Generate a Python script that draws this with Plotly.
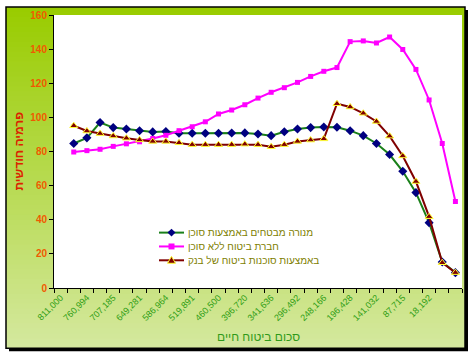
import plotly.graph_objects as go

# ---- data ----
x_labels = ["811,000", "760,994", "707,185", "649,281", "586,964", "519,891", "460,500",
            "396,720", "341,636", "296,492", "248,166", "196,428", "141,032", "87,715", "18,192"]
label_positions = list(range(0, 30, 2))
x_idx = list(range(1, 31))

menora = [84.7, 88, 97, 94, 93.2, 92.2, 91.5, 91.7, 90.7, 90.7, 90.7, 90.7, 90.8, 90.9, 90.3,
          89.3, 91.6, 93.2, 94, 94.4, 94.2, 92.2, 89.3, 84.7, 78.2, 68.4, 55.9, 38.3, 15.2, 9]
direct = [79.7, 80.5, 81.3, 83, 84.5, 85.7, 87.6, 89.5, 92.2, 94.5, 97.4, 102, 104.3, 107.4, 111.3,
          114.7, 117.4, 120.5, 124, 127, 129.2, 144.4, 144.8, 143.6, 147.1, 139.8, 128.1, 110.2, 84.7, 50.7]
bank = [95.1, 92, 90.5, 89.1, 87.8, 86.8, 85.9, 85.9, 85.1, 84, 84, 84, 84, 84.3, 84,
        82.8, 84, 85.9, 86.7, 87.4, 108, 106.1, 102.4, 97.6, 89, 77.4, 62.4, 41.8, 14.8, 9]

names = ["מנורה מבטחים באמצעות סוכן", "חברת ביטוח ללא סוכן", "באמצעות סוכנות ביטוח של בנק"]
y_title = "פרמיה חודשית"
x_title = "סכום ביטוח חיים"

# ---- layout geometry ----
W, H = 471, 356
L, R, T, B = 54, 9, 12, 68
PW, PH = W - L - R, H - T - B


def X(px):
    return (px - L) / PW


def Y(py):
    return (H - B - py) / PH


line_cols = ["#1a801a", "#ff00ff", "#800000"]
mark_cols = ["#000080", "#ff00ff", "#800000"]

fig = go.Figure()
fig.add_trace(go.Scatter(x=x_idx, y=menora, name=names[0], mode="lines+markers",
                         line=dict(color=line_cols[0], width=2),
                         marker=dict(symbol="diamond", size=7, color=mark_cols[0])))
fig.add_trace(go.Scatter(x=x_idx, y=direct, name=names[1], mode="lines+markers",
                         line=dict(color=line_cols[1], width=2),
                         marker=dict(symbol="square", size=5, color=mark_cols[1])))
fig.add_trace(go.Scatter(x=x_idx, y=bank, name=names[2], mode="lines+markers",
                         line=dict(color=line_cols[2], width=2),
                         marker=dict(symbol="triangle-up", size=7, color=mark_cols[2],
                                     line=dict(color="#ffff33", width=1))))

# background: shadow, gradient bands, white plot area, frame
shapes = []
shapes.append(dict(type="rect", xref="paper", yref="paper", x0=X(9), x1=X(468), y0=Y(352), y1=Y(7),
                   fillcolor="black", line=dict(width=0), layer="below"))
top_c = (153, 204, 0)
bot_c = (212, 232, 158)
y_top, y_bot = 4, 349
n = 69
step = (y_bot - y_top) / n
for i in range(n):
    t = i / (n - 1)
    c = tuple(int(round(top_c[k] + (bot_c[k] - top_c[k]) * t)) for k in range(3))
    y0 = y_top + i * step
    y1 = y_bot  # each band reaches the bottom; later bands overlap earlier ones (no seams)
    shapes.append(dict(type="rect", xref="paper", yref="paper", x0=X(6), x1=X(465),
                       y0=Y(y1), y1=Y(y0),
                       fillcolor="rgb(%d,%d,%d)" % c, line=dict(width=0), layer="below"))
shapes.append(dict(type="rect", xref="paper", yref="paper", x0=0, x1=1, y0=0, y1=1,
                   fillcolor="white", line=dict(width=0), layer="below"))
shapes.append(dict(type="rect", xref="paper", yref="paper", x0=X(6), x1=X(465), y0=Y(349), y1=Y(4),
                   fillcolor="rgba(0,0,0,0)", line=dict(color="black", width=1.5), layer="below"))

# ---- manual legend (line sample + marker + text) ----
annotations = []
leg_rows = [232, 246, 260]
lx0, lx1, lxm, ltext = 159, 184, 171.5, 186


def poly(points):
    return "M" + "L".join("%.5f,%.5f" % (X(px), Y(py)) for px, py in points) + "Z"


for i, ry in enumerate(leg_rows):
    shapes.append(dict(type="line", xref="paper", yref="paper", x0=X(lx0), x1=X(lx1),
                       y0=Y(ry), y1=Y(ry), line=dict(color=line_cols[i], width=2)))
    if i == 0:
        pts = [(lxm, ry - 4), (lxm + 4, ry), (lxm, ry + 4), (lxm - 4, ry)]
        shapes.append(dict(type="path", xref="paper", yref="paper", path=poly(pts),
                           fillcolor=mark_cols[0], line=dict(width=0)))
    elif i == 1:
        pts = [(lxm - 3, ry - 3), (lxm + 3, ry - 3), (lxm + 3, ry + 3), (lxm - 3, ry + 3)]
        shapes.append(dict(type="path", xref="paper", yref="paper", path=poly(pts),
                           fillcolor=mark_cols[1], line=dict(width=0)))
    else:
        pts = [(lxm, ry - 4), (lxm + 4, ry + 3), (lxm - 4, ry + 3)]
        shapes.append(dict(type="path", xref="paper", yref="paper", path=poly(pts),
                           fillcolor=mark_cols[2], line=dict(color="#ffff33", width=1)))
    annotations.append(dict(text=names[i], xref="paper", yref="paper", x=X(ltext), y=Y(ry),
                            showarrow=False, xanchor="left", yanchor="middle",
                            font=dict(size=10, color="#808000")))

annotations.append(dict(text=x_title, xref="paper", yref="paper", x=X(258), y=Y(338), showarrow=False,
                        font=dict(size=12, color="#2e9a1a"), xanchor="center", yanchor="middle"))
annotations.append(dict(text=y_title, xref="paper", yref="paper", x=X(18), y=Y(150), showarrow=False,
                        textangle=-90, font=dict(size=12, color="#dd2200", weight="bold"),
                        xanchor="center", yanchor="middle"))

fig.update_layout(
    width=W, height=H,
    margin=dict(l=L, r=R, t=T, b=B),
    paper_bgcolor="white", plot_bgcolor="white",
    font=dict(family="Arial, Liberation Sans, sans-serif"),
    shapes=shapes,
    showlegend=False,
    annotations=annotations,
)

fig.update_xaxes(range=[-0.5, 30.5], tickmode="array", tickvals=label_positions, ticktext=x_labels,
                 tickangle=-45, tickfont=dict(size=9, color="#2f9e14"),
                 showline=True, linecolor="black", linewidth=1, ticks="", showgrid=False,
                 zeroline=False,
                 minor=dict(tickmode="linear", tick0=-0.5, dtick=1, ticks="outside", ticklen=4,
                            tickcolor="black", showgrid=False))
fig.update_yaxes(range=[0, 160], tickmode="linear", tick0=0, dtick=20,
                 tickfont=dict(size=10, color="#f05a00", weight="bold"),
                 showline=True, linecolor="black", linewidth=1, ticks="outside", ticklen=4,
                 tickcolor="black", showgrid=False, zeroline=False)

fig.write_html("out.html", config={"displayModeBar": False},
               post_script="document.body.style.margin='0';")
